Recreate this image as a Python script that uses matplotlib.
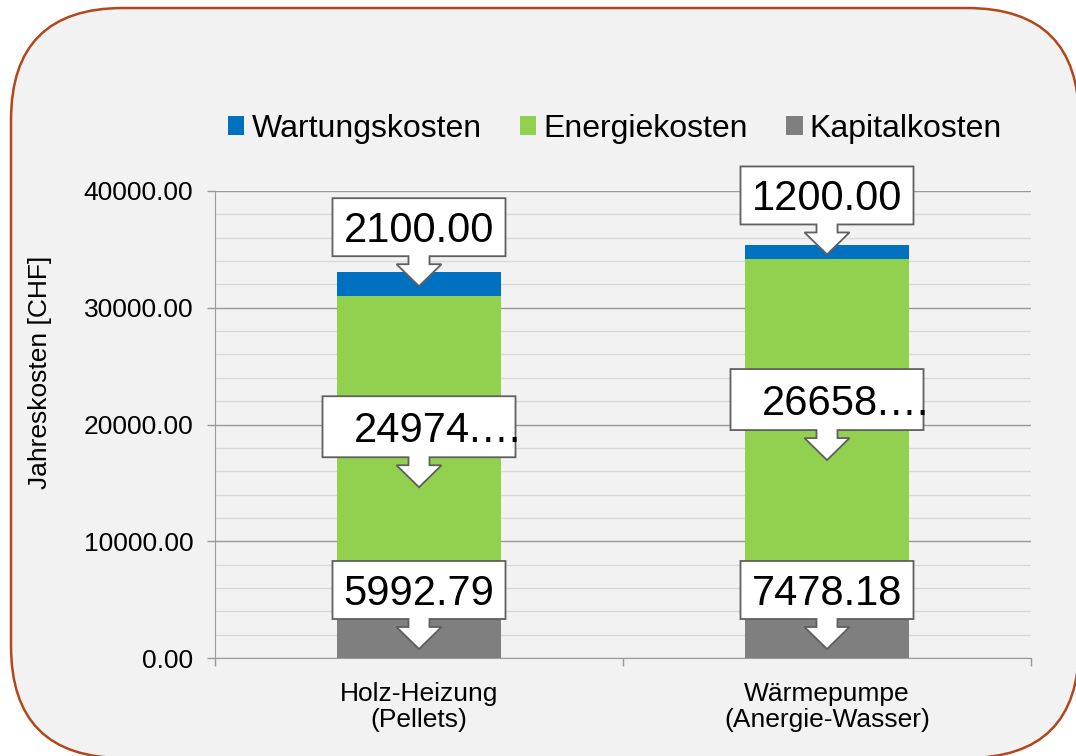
import matplotlib
matplotlib.use('Agg')
import matplotlib.pyplot as plt
import matplotlib.transforms as mtransforms
from matplotlib.patches import FancyBboxPatch, Polygon
from matplotlib.ticker import MultipleLocator, FormatStrFormatter
import numpy as np

plt.rcParams['font.family'] = ['Liberation Sans', 'DejaVu Sans']

categories = ['Holz-Heizung\n(Pellets)', 'Wärmepumpe\n(Anergie-Wasser)']
kapitalkosten = [5992.79, 7478.18]
energiekosten = [24974.35, 26658.22]
wartungskosten = [2100.00, 1200.00]

series_names = ['Kapitalkosten', 'Energiekosten', 'Wartungskosten']
series_colors = ['#7f7f7f', '#92d050', '#0070c0']

# callout styling per series (pixels)
box_w = [173, 193, 173]
box_h = [58, 61, 58]
tip_drop = [44, 45, 2]     # tip below the segment centre
text_dx = [0, 20, 0]
label_chars = [None, 6, None]   # energy labels get cut off

grid_major = '#9a9a9a'
grid_minor = '#d9d9d9'

fig = plt.figure(figsize=(10.76, 7.56), dpi=100)
fig.patch.set_facecolor('white')

# rounded chart frame
frame = FancyBboxPatch((0.11, -0.02), 10.68, 7.50,
                       boxstyle='round,pad=0,rounding_size=1.12',
                       transform=fig.dpi_scale_trans,
                       facecolor='#f2f2f2', edgecolor='#b5451b',
                       linewidth=1.8, zorder=-1)
fig.add_artist(frame)

ax = fig.add_axes([215 / 1076, (756 - 658) / 756, 816 / 1076, 467 / 756])
ax.set_facecolor('none')

x = np.arange(len(categories))
bottom = np.zeros(len(categories))
stacks = []
for vals, name, color in zip([kapitalkosten, energiekosten, wartungskosten],
                             series_names, series_colors):
    b = ax.bar(x, vals, 0.4, bottom=bottom, color=color, label=name, zorder=2)
    stacks.append((b, np.array(vals), bottom.copy()))
    bottom += vals

ax.set_xlim(-0.5, 1.5)
ax.set_ylim(0, 40000)
ax.yaxis.set_major_locator(MultipleLocator(10000))
ax.yaxis.set_minor_locator(MultipleLocator(2000))
ax.yaxis.set_major_formatter(FormatStrFormatter('%.2f'))
ax.grid(axis='y', which='major', color=grid_major, linewidth=1)
ax.grid(axis='y', which='minor', color=grid_minor, linewidth=1)
ax.set_axisbelow(True)
ax.tick_params(axis='y', which='major', length=5.5, width=1, color=grid_major,
               labelsize=19, pad=10)
ax.tick_params(axis='y', which='minor', length=0)

# category boundaries as ticks, names in between
ax.set_xticks([-0.5, 0.5, 1.5])
ax.set_xticklabels([])
ax.set_xticks(x, categories, minor=True)
ax.tick_params(axis='x', which='major', length=5.5, width=1, color=grid_major)
ax.tick_params(axis='x', which='minor', length=0, labelsize=19, pad=17)
for lab in ax.get_xticklabels(minor=True):
    lab.set_linespacing(1.15)
    lab.set_multialignment('center')

for side in ['top', 'right']:
    ax.spines[side].set_visible(False)
for side in ['left', 'bottom']:
    ax.spines[side].set_color(grid_major)

ax.set_ylabel('Jahreskosten [CHF]', fontsize=19, va='center')
ax.yaxis.set_label_coords(-0.2145, 0.611)

handles, labels = ax.get_legend_handles_labels()
ax.legend(handles[::-1], labels[::-1], ncol=3, loc='center',
          bbox_to_anchor=(615 / 1076, 1 - 129 / 756),
          bbox_transform=fig.transFigure, frameon=False, fontsize=23,
          handlelength=0.514, handleheight=0.514, handletextpad=0.22,
          columnspacing=1.2, borderpad=0, borderaxespad=0)


def callout(xc, yc, text, w, h, dx):
    # down-arrow callout with its tip at (xc, yc)
    hw, hh, sw, gap = 22.5, 22, 10.5, 30
    verts = [(0, 0), (hw, hh), (sw, hh), (sw, gap), (w / 2, gap),
             (w / 2, gap + h), (-w / 2, gap + h), (-w / 2, gap),
             (-sw, gap), (-sw, hh), (-hw, hh)]
    shape = Polygon(verts, closed=True, facecolor='white', edgecolor='#5f5f5f',
                    linewidth=1.3, joinstyle='miter', zorder=5, clip_on=False,
                    transform=mtransforms.ScaledTranslation(xc, yc, ax.transData))
    ax.add_patch(shape)
    ax.annotate(text, xy=(xc, yc), xycoords='data',
                xytext=(dx, gap + h / 2 - 15), textcoords='offset pixels',
                ha='center', va='baseline', fontsize=30, color='black',
                zorder=6, annotation_clip=False)


floor = ax.transData.transform((0, 0))[1] + 9
for i, (b, vals, base) in enumerate(stacks):
    for xc, v, b0 in zip(x, vals, base):
        centre = ax.transData.transform((xc, b0 + v / 2))[1]
        tip = max(centre - tip_drop[i], floor)
        tip_y = ax.transData.inverted().transform((0, tip))[1]
        text = f'{v:.2f}'
        if label_chars[i]:
            text = text[:label_chars[i]] + '…'
        callout(xc, tip_y, text, box_w[i], box_h[i], text_dx[i])

fig.savefig('out.png', dpi=100)
